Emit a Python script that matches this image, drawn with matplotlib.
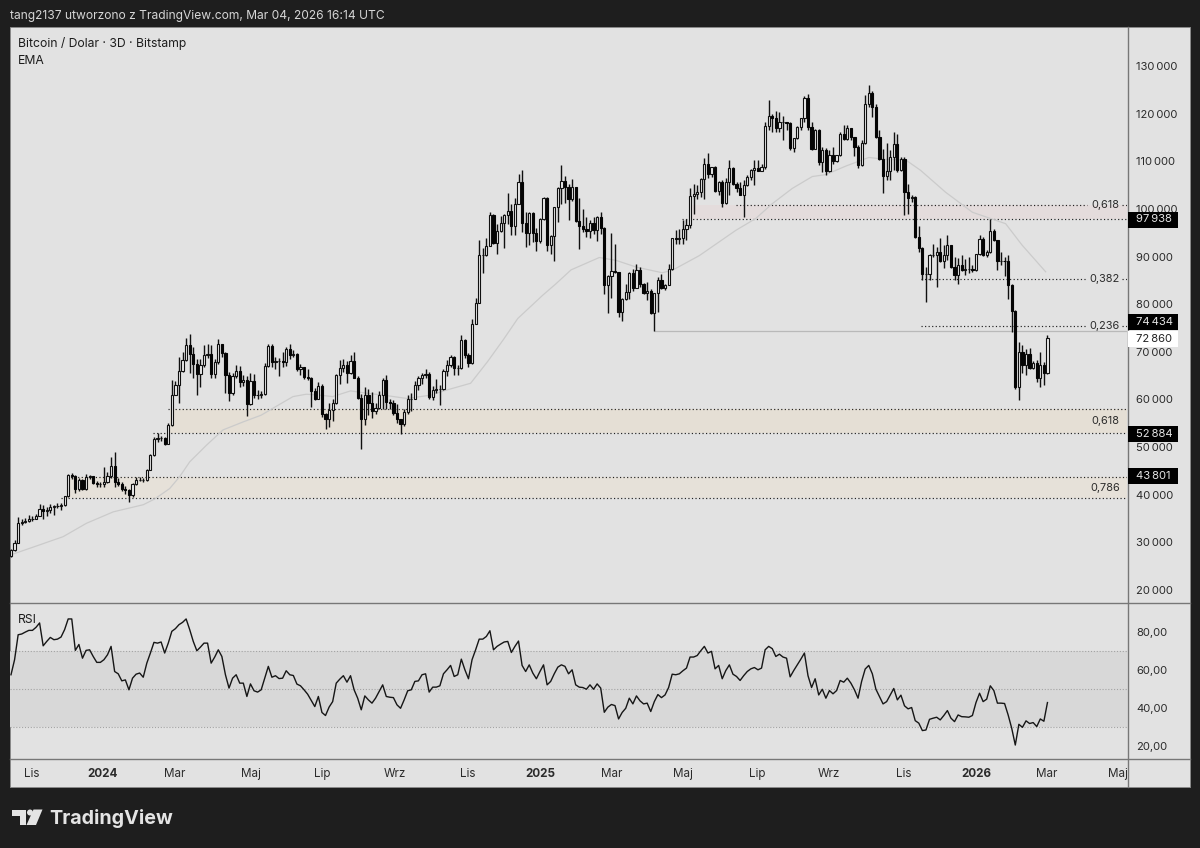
import numpy as np
import matplotlib
matplotlib.use("Agg")
import matplotlib.pyplot as plt
from matplotlib.patches import Polygon, Circle, Rectangle

# === DATA (thousands of USD, 3D candles) ===
first_open = 27.2
closes = [
    28.4, 29.9, 34.0, 34.2, 34.4, 34.8, 35.0, 35.5, 37.0, 36.6,
    36.8, 37.5, 37.7, 37.7, 37.8, 39.7, 44.1, 43.9, 41.3, 43.0,
    41.3, 43.8, 43.9, 42.5, 42.2, 42.3, 42.6, 43.9, 46.1, 42.7,
    42.3, 41.2, 41.0, 39.9, 42.2, 43.0, 43.1, 43.1, 45.2, 48.3,
    51.8, 52.0, 52.0, 50.6, 54.6, 61.0, 63.0, 66.0, 68.2, 71.4,
    69.5, 67.5, 65.4, 67.2, 69.3, 69.5, 65.3, 67.8, 71.6, 69.7,
    65.1, 61.3, 65.0, 66.0, 63.7, 64.0, 59.0, 63.9, 60.9, 60.9,
    61.2, 67.0, 71.2, 67.9, 68.0, 68.0, 67.8, 70.5, 69.3, 69.6,
    66.3, 66.9, 64.7, 64.6, 61.8, 60.2, 62.8, 56.9, 55.8, 57.8,
    59.2, 65.1, 66.5, 67.2, 65.6, 68.1, 64.6, 60.4, 56.0, 60.9,
    59.2, 57.6, 58.3, 61.0, 64.0, 59.5, 59.3, 57.2, 55.9, 54.8,
    57.3, 60.0, 60.2, 63.1, 64.4, 65.1, 65.4, 60.6, 62.0, 62.1,
    62.3, 66.0, 67.2, 68.9, 66.5, 66.6, 72.5, 69.3, 67.7, 75.8,
    80.3, 90.3, 90.4, 92.2, 98.8, 92.9, 95.4, 97.1, 98.7, 99.6,
    96.4, 101.1, 105.7, 97.1, 95.0, 99.2, 95.0, 93.2, 97.8, 102.2,
    92.4, 94.3, 100.3, 104.3, 105.9, 104.6, 102.0, 104.5, 97.5, 96.4,
    95.7, 95.3, 97.1, 95.5, 98.2, 96.0, 84.0, 85.9, 87.0, 86.8,
    78.4, 81.0, 82.5, 86.6, 83.5, 87.1, 84.2, 82.4, 82.8, 78.2,
    82.3, 85.0, 83.3, 84.0, 87.3, 93.8, 93.6, 93.8, 95.7, 96.6,
    102.7, 103.2, 103.6, 106.2, 109.5, 107.4, 108.7, 103.7, 105.7, 101.3,
    105.7, 108.5, 105.3, 104.3, 103.0, 105.0, 106.7, 108.1, 108.5, 108.0,
    108.7, 117.4, 119.5, 119.0, 116.9, 118.3, 118.3, 118.0, 112.7, 114.8,
    117.2, 119.0, 123.2, 117.2, 112.5, 116.6, 109.9, 112.3, 108.0, 111.3,
    110.0, 111.3, 115.8, 114.6, 116.9, 115.0, 113.0, 109.2, 113.9, 122.0,
    124.3, 121.5, 115.0, 110.4, 106.9, 108.0, 110.8, 113.7, 108.1, 110.4,
    103.6, 102.2, 102.5, 94.1, 91.9, 86.3, 86.3, 90.3, 90.4, 91.0,
    89.1, 90.3, 92.4, 87.8, 86.1, 88.2, 87.1, 87.3, 87.3, 87.1,
    90.5, 93.6, 90.3, 91.0, 95.4, 93.4, 89.1, 89.1, 89.0, 84.0,
    78.6, 62.7, 70.0, 67.2, 69.6, 66.5, 67.7, 64.6, 67.2, 65.5,
    72.8,
]
highs = [
    28.6, 30.5, 35.4, 35.0, 35.2, 35.8, 35.6, 36.0, 38.0, 37.8,
    37.4, 38.0, 37.9, 38.3, 38.2, 39.8, 44.4, 44.6, 44.2, 43.6,
    43.4, 44.3, 44.1, 43.9, 42.9, 42.7, 45.9, 44.8, 48.0, 49.0,
    43.5, 42.6, 41.8, 41.2, 42.5, 43.8, 43.8, 43.6, 45.5, 48.5,
    52.2, 52.9, 52.4, 52.2, 55.0, 64.0, 63.9, 69.0, 69.9, 72.8,
    73.7, 71.0, 68.5, 68.5, 71.4, 71.6, 71.4, 68.5, 72.6, 71.4,
    70.0, 65.8, 65.5, 67.2, 67.0, 65.2, 65.0, 65.5, 65.4, 62.0,
    61.8, 67.6, 71.7, 71.7, 68.9, 68.6, 70.0, 71.0, 71.7, 70.4,
    69.7, 67.4, 66.8, 66.3, 64.8, 62.4, 63.7, 63.3, 57.2, 59.2,
    60.0, 65.4, 68.2, 68.4, 68.0, 69.3, 69.9, 65.0, 61.2, 62.7,
    62.1, 61.5, 59.3, 61.8, 64.4, 65.2, 60.0, 59.9, 59.0, 56.0,
    58.0, 61.0, 61.4, 63.8, 64.9, 65.6, 66.4, 65.8, 62.9, 64.3,
    63.0, 66.3, 68.2, 69.3, 69.2, 67.3, 73.5, 72.7, 69.7, 76.8,
    81.2, 93.4, 91.7, 93.8, 99.4, 99.0, 96.9, 98.5, 99.0, 103.4,
    101.1, 102.2, 107.4, 108.1, 99.4, 99.4, 99.4, 95.9, 98.0, 102.4,
    102.5, 94.5, 100.4, 104.5, 109.2, 107.0, 105.3, 106.2, 104.6, 102.3,
    100.0, 98.3, 97.6, 98.3, 98.5, 99.4, 96.2, 86.1, 95.0, 92.7,
    86.8, 81.2, 84.2, 86.8, 87.3, 88.5, 87.8, 84.4, 84.7, 83.1,
    82.4, 85.7, 86.4, 84.3, 88.4, 93.9, 95.5, 95.7, 97.6, 97.8,
    104.3, 105.3, 105.0, 106.4, 110.6, 111.8, 108.8, 109.0, 105.9, 106.0,
    106.5, 110.2, 108.7, 105.7, 105.7, 106.0, 107.1, 108.3, 110.2, 110.2,
    109.5, 118.3, 122.9, 120.0, 120.6, 120.4, 119.5, 118.3, 118.3, 114.8,
    117.4, 119.1, 123.6, 124.2, 118.3, 116.7, 116.7, 113.0, 112.7, 112.3,
    113.1, 111.3, 116.2, 117.6, 117.7, 117.0, 115.1, 113.4, 114.5, 123.9,
    126.0, 124.8, 122.1, 116.5, 112.5, 113.9, 112.3, 116.2, 115.8, 110.9,
    110.8, 105.3, 102.9, 102.7, 96.5, 92.0, 87.8, 90.5, 92.7, 92.1,
    93.9, 92.4, 94.5, 92.5, 90.0, 89.6, 90.3, 89.4, 90.0, 88.2,
    90.6, 94.6, 94.0, 91.3, 97.8, 95.7, 93.5, 91.0, 89.9, 90.3,
    84.2, 78.7, 72.1, 71.4, 70.5, 70.7, 68.0, 68.3, 70.0, 67.9,
    73.5,
]
lows = [
    27.0, 28.2, 29.8, 33.7, 34.0, 34.3, 34.5, 34.8, 35.5, 35.0,
    35.6, 36.2, 35.8, 37.2, 36.8, 37.6, 39.5, 43.4, 40.3, 40.8,
    40.9, 41.0, 43.2, 42.3, 41.6, 41.7, 41.6, 42.4, 43.6, 41.7,
    41.8, 40.8, 40.2, 38.5, 39.6, 42.0, 42.8, 42.6, 42.8, 45.1,
    48.1, 51.1, 51.3, 50.5, 50.6, 54.4, 60.9, 59.3, 65.8, 68.1,
    65.5, 64.4, 60.9, 62.6, 66.8, 68.8, 64.4, 64.4, 67.5, 68.9,
    61.3, 59.7, 60.9, 64.6, 62.6, 62.8, 56.5, 58.8, 60.4, 60.0,
    60.3, 61.0, 66.9, 66.8, 66.4, 65.0, 66.8, 67.0, 68.5, 69.0,
    66.0, 65.2, 64.2, 64.0, 58.5, 59.9, 60.0, 56.4, 53.7, 54.3,
    55.5, 59.0, 63.2, 65.8, 63.4, 65.4, 64.4, 60.2, 49.6, 54.6,
    56.7, 56.2, 57.0, 58.0, 58.1, 58.1, 57.9, 56.7, 55.0, 52.7,
    54.4, 57.0, 57.6, 60.0, 62.0, 63.3, 64.4, 60.2, 59.8, 61.4,
    58.8, 62.0, 65.0, 66.8, 65.2, 65.1, 66.4, 68.8, 66.8, 67.5,
    75.8, 80.2, 86.6, 90.2, 92.4, 92.7, 90.6, 95.2, 91.9, 96.8,
    94.5, 94.5, 101.1, 95.2, 92.0, 92.4, 93.1, 91.2, 92.9, 97.6,
    91.2, 90.5, 89.1, 97.3, 101.1, 101.2, 97.6, 101.7, 97.3, 91.5,
    95.2, 94.0, 93.8, 94.8, 93.3, 94.7, 82.1, 78.2, 81.4, 86.6,
    77.3, 76.5, 80.8, 81.0, 82.8, 83.5, 83.6, 82.2, 80.8, 78.0,
    74.4, 78.4, 83.2, 82.9, 84.0, 87.1, 92.7, 92.7, 92.6, 93.4,
    95.9, 99.0, 102.1, 102.5, 102.0, 106.4, 106.7, 103.6, 102.9, 100.3,
    101.1, 102.9, 105.0, 103.6, 102.9, 98.2, 104.8, 106.1, 105.0, 107.9,
    108.0, 108.3, 116.5, 116.2, 116.2, 116.2, 114.4, 116.5, 112.3, 112.0,
    114.6, 116.5, 118.3, 116.5, 112.3, 112.5, 109.2, 107.8, 107.1, 107.8,
    109.5, 109.9, 111.1, 114.4, 114.5, 114.5, 111.1, 108.5, 109.0, 113.7,
    121.4, 119.4, 114.8, 110.2, 103.4, 106.0, 106.0, 108.1, 107.8, 107.9,
    98.7, 99.0, 101.5, 93.9, 91.0, 85.0, 80.5, 85.0, 89.9, 83.6,
    88.9, 87.5, 89.2, 87.7, 85.0, 84.3, 86.9, 86.1, 86.6, 86.8,
    87.0, 90.4, 90.1, 89.9, 90.8, 93.2, 87.1, 88.2, 85.9, 81.0,
    74.2, 62.3, 59.9, 65.6, 65.1, 66.3, 66.4, 63.7, 62.7, 63.0,
    65.3,
]
rsi_values = [
    57.4, 65.3, 78.4, 78.8, 79.8, 80.7, 80.7, 82.3, 84.6, 72.6,
    74.9, 77.0, 75.8, 76.1, 77.2, 81.1, 86.7, 86.7, 70.2, 73.3,
    66.1, 70.2, 70.5, 67.0, 63.9, 63.9, 65.3, 67.9, 72.3, 59.1,
    57.9, 54.2, 54.7, 49.5, 55.6, 57.7, 58.3, 56.1, 63.5, 68.8,
    74.4, 74.0, 74.6, 68.8, 74.0, 80.2, 81.6, 83.7, 84.9, 86.7,
    81.1, 74.9, 70.0, 71.9, 74.0, 74.0, 63.5, 66.7, 70.5, 67.0,
    57.4, 50.4, 55.6, 57.4, 53.0, 53.0, 46.0, 52.6, 49.0, 48.3,
    49.5, 55.6, 61.8, 56.1, 56.9, 55.4, 55.6, 59.5, 57.4, 57.0,
    52.5, 51.6, 49.5, 47.2, 43.9, 40.7, 46.0, 37.6, 36.0, 40.4,
    43.3, 53.0, 55.1, 56.9, 53.5, 56.9, 49.5, 45.1, 39.0, 46.3,
    44.2, 42.5, 45.1, 48.6, 52.1, 46.0, 45.6, 45.4, 41.6, 39.8,
    44.2, 49.0, 49.5, 53.9, 54.2, 57.4, 57.9, 48.3, 50.9, 50.9,
    51.6, 57.9, 60.0, 62.3, 56.5, 57.4, 65.6, 60.0, 55.3, 65.3,
    70.5, 76.1, 76.1, 77.5, 80.5, 70.5, 72.3, 73.5, 74.6, 74.9,
    69.1, 72.3, 75.1, 62.3, 59.1, 62.6, 58.3, 55.3, 59.1, 62.6,
    52.1, 53.9, 57.9, 61.4, 62.6, 61.8, 57.9, 60.0, 52.1, 50.9,
    50.7, 49.8, 52.1, 49.8, 52.6, 50.4, 37.7, 40.4, 41.8, 41.2,
    34.2, 37.6, 39.8, 45.1, 42.1, 46.3, 43.7, 42.1, 42.5, 38.1,
    43.3, 47.0, 45.4, 46.8, 50.7, 57.7, 57.4, 57.9, 59.5, 60.9,
    66.7, 66.7, 67.5, 70.0, 72.3, 68.8, 69.7, 60.5, 62.3, 55.3,
    59.6, 62.6, 57.7, 56.5, 54.4, 56.9, 59.1, 60.5, 61.2, 60.0,
    60.9, 70.5, 72.3, 71.1, 67.0, 68.2, 66.7, 66.1, 56.3, 59.6,
    62.6, 65.6, 68.8, 56.9, 50.7, 55.3, 46.8, 49.8, 45.1, 49.1,
    47.4, 49.1, 54.4, 53.5, 55.6, 53.0, 49.5, 45.1, 53.9, 60.4,
    62.3, 57.9, 49.8, 46.0, 42.1, 43.3, 46.8, 50.2, 44.2, 46.7,
    41.1, 39.5, 40.2, 33.3, 32.0, 28.1, 28.4, 34.0, 34.6, 35.1,
    33.7, 36.0, 38.6, 34.6, 32.8, 36.3, 35.4, 35.3, 35.1, 36.0,
    42.8, 47.7, 43.3, 44.6, 51.6, 49.1, 42.5, 42.5, 42.3, 36.3,
    29.3, 20.5, 31.4, 29.8, 33.2, 31.8, 32.3, 30.2, 34.2, 33.0,
    42.8,
]
# EMA read at a sample of candles
ema_idx = [0, 6.2, 14.6, 21.1, 28.6, 37, 40.2, 44.4, 47.2, 50, 54.7, 59.3, 65, 70, 74.3,
           78.9, 82.6, 86.4, 90, 95, 99.6, 104.3, 110.8, 117.4, 122, 128.6, 133.3, 137.8,
           141.8, 148.8, 152.5, 156.7, 164.6, 169.3, 174.9, 182.2, 185, 192.6, 202.8,
           208.4, 213, 218.6, 224.2, 228, 233.6, 240, 244.7, 250.3, 254.5, 261.5, 269,
           278.3, 282.9, 289.5]
ema_values = [27.4, 29.0, 31.2, 34.0, 36.4, 37.9, 39.1, 41.3, 43.8, 46.9, 50.4, 53.6, 55.3, 56.7, 58.6,
              60.6, 61.1, 60.9, 60.6, 61.8, 61.3, 60.9, 60.2, 60.9, 62.0, 63.4, 67.9, 72.6,
              77.0, 81.9, 84.3, 87.2, 89.8, 89.2, 87.8, 86.6, 87.1, 90.2, 95.5,
              98.0, 101.1, 104.3, 106.8, 107.2, 109.0, 110.8, 110.4, 110.3, 108.1, 103.5, 99.3,
              96.9, 92.4, 86.8]

price_ticks = [20, 30, 40, 50, 60, 70, 80, 90, 100, 110, 120, 130]
rsi_ticks = [20, 40, 60, 80]
rsi_levels = [30, 50, 70]
time_pos = [5.9, 25.7, 45.9, 67.2, 87, 107.4, 127.9, 148, 168.2, 188, 208.7, 228.9, 249.9, 270, 289.8, 309.7]
time_labels = ["Lis", "2024", "Mar", "Maj", "Lip", "Wrz", "Lis", "2025", "Mar", "Maj", "Lip", "Wrz", "Lis", "2026", "Mar", "Maj"]

# zones: bottom, top, start of fill
zone_bottom = [97.938, 52.884, 39.4]
zone_top = [100.9, 58.0, 43.801]
zone_start = [189.8, 44.5, 15.6]
zone_top_line_start = [202.8, 43.9, 15.7]
zone_bottom_line_start = [187.8, 39.7, 14.0]
zone_colors = ["#e4dcdc", "#e5dfd5", "#e6e1d9"]
swing_level = 74.434
swing_start = 180
fib_382 = 85.2
fib_236 = 75.5
fib_start = 254.6

BG = "#e2e2e2"
DARK = "#1e1e1e"
TEXT = "#2b2b2b"
AXIS_LINE = "#777777"
plt.rcParams["font.family"] = ["Inter", "DejaVu Sans"]

W, H = 1200, 848
STEP = 3.574


def px_axes(x0, y0, x1, y1, **kw):
    return fig.add_axes([x0 / W, 1 - y1 / H, (x1 - x0) / W, (y1 - y0) / H], **kw)


def fmt_price(v):
    return f"{v // 1000}\u2009{v % 1000:03d}"


fig = plt.figure(figsize=(W / 100, H / 100), dpi=100, facecolor=DARK)

# panel background + overlay in pixel coordinates for the layout stuff
back = px_axes(0, 0, W, H, zorder=0)
back.set_xlim(0, W)
back.set_ylim(H, 0)
back.axis("off")
back.add_patch(Rectangle((10, 27), 1180, 760, facecolor=BG, edgecolor="#8a8a8a", linewidth=0.7))

ax = px_axes(10, 27, 1127, 602, zorder=2)
ax_rsi = px_axes(10, 603, 1127, 758, zorder=2)
ax_time = px_axes(10, 759, 1127, 787, zorder=2)
xlim = ((10 - 11) / STEP, (1127 - 11) / STEP)
for a in (ax, ax_rsi, ax_time):
    a.set_facecolor("none")
    a.set_xlim(*xlim)
    for s in a.spines.values():
        s.set_visible(False)
    a.set_xticks([])

# === PRICE PANE ===
assert len(closes) == len(highs) == len(lows) == len(rsi_values)
x = np.arange(len(closes))
c = np.array(closes)
h = np.array(highs)
l = np.array(lows)
o = np.r_[first_open, c[:-1]]
up = c >= o
ax.set_ylim(17.48, 138.19)

right = xlim[1]
lab_gap = (1087 - 11) / STEP
lab_gap2 = (1122 - 11) / STEP
dots = dict(color="#222222", linewidth=0.85, linestyles=(0, (1, 2)), zorder=2)

for b, t, s, col in zip(zone_bottom, zone_top, zone_start, zone_colors):
    ax.fill_between([s, right], b, t, color=col, linewidth=0, zorder=1)

for b, t, st, sb in zip(zone_bottom, zone_top, zone_top_line_start, zone_bottom_line_start):
    if b > 90:
        ax.hlines(t, st, lab_gap, **dots)
        ax.hlines(t, lab_gap2, right, **dots)
    else:
        ax.hlines(t, st, right, **dots)
    ax.hlines(b, sb, right, **dots)
for lev in (fib_382, fib_236):
    ax.hlines(lev, fib_start, lab_gap, **dots)
    ax.hlines(lev, lab_gap2, right, **dots)
ax.hlines(swing_level, swing_start, right, color="#b9b9b9", linewidth=0.9, zorder=2)

ax.plot(ema_idx, ema_values, color="#cbcbcb", linewidth=0.9, zorder=3)

ax.vlines(x, l, h, color="#101010", linewidth=1.0, zorder=4)
ax.bar(x[up], (c - o)[up], bottom=o[up], width=0.62, facecolor="#eeeeee", edgecolor="#101010", linewidth=0.8, zorder=5)
ax.bar(x[~up], (c - o)[~up], bottom=o[~up], width=0.62, facecolor="#050505", edgecolor="#050505", linewidth=0.8, zorder=5)

ax.yaxis.tick_right()
ax.set_yticks(price_ticks)
ax.set_yticklabels([fmt_price(v * 1000) for v in price_ticks], fontsize=8.1, color=TEXT)
ax.tick_params(axis="y", length=0, pad=6.5)

for txt, yv in [("0,618", zone_top[0]), ("0,382", fib_382), ("0,236", fib_236), ("0,618", 55.4), ("0,786", 41.5)]:
    ax.text((1105 - 11) / STEP, yv, txt, fontsize=7.9, color=TEXT, ha="center", va="center", zorder=6)

ax.text(8 / 1117, 1 - 16.5 / 575, "Bitcoin / Dolar \u00b7 3D \u00b7 Bitstamp", transform=ax.transAxes,
        fontsize=8.75, color="#1c1c1c", va="center")
ax.text(8 / 1117, 1 - 34 / 575, "EMA", transform=ax.transAxes, fontsize=8.75, color="#1c1c1c", va="center")

# === RSI PANE ===
ax_rsi.set_ylim(13.7, 95.07)
ax_rsi.axhspan(rsi_levels[0], rsi_levels[2], color="#d8d8d8", linewidth=0, zorder=1)
for lev in rsi_levels:
    ax_rsi.axhline(lev, color="#a3a3a3", linewidth=0.8, linestyle=(0, (1, 1.6)), zorder=2)
ax_rsi.plot(x, rsi_values, color="#161616", linewidth=1.0, zorder=3)
ax_rsi.yaxis.tick_right()
ax_rsi.set_yticks(rsi_ticks)
ax_rsi.set_yticklabels([f"{v},00" for v in rsi_ticks], fontsize=8.1, color=TEXT)
ax_rsi.tick_params(axis="y", length=0, pad=6.5)
ax_rsi.text(8 / 1117, 1 - 17 / 155, "RSI", transform=ax_rsi.transAxes, fontsize=8.75, color="#1c1c1c", va="center")

# === TIME AXIS ===
ax_time.set_ylim(0, 1)
ax_time.set_yticks([])
for p, lab in zip(time_pos, time_labels):
    bold = lab.isdigit()
    ax_time.text(p, 0.48, lab, fontsize=8.4, color=TEXT, ha="center", va="center",
                 fontweight="bold" if bold else "normal", clip_on=True)

# === PANE LINES, PRICE TAGS, HEADER, LOGO ===
over = px_axes(0, 0, W, H, zorder=5)
over.set_facecolor("none")
over.set_xlim(0, W)
over.set_ylim(H, 0)
over.axis("off")
over.plot([10, 1190], [602.5, 602.5], color=AXIS_LINE, linewidth=1.0)
over.plot([10, 1190], [758.8, 758.8], color=AXIS_LINE, linewidth=1.0)
over.plot([1127.5, 1127.5], [27, 787], color=AXIS_LINE, linewidth=1.0)

tags = [(97938, 219.5, "#000000", "#e6e6e6"), (74434, 322, "#000000", "#e6e6e6"), (72860, 339, "#ffffff", "#222222"),
        (52884, 434, "#000000", "#e6e6e6"), (43801, 476, "#000000", "#e6e6e6")]
for val, yc, fc, tc in tags:
    over.add_patch(Rectangle((1128, yc - 8), 50, 16, facecolor=fc, edgecolor="none", zorder=3))
    over.text(1136, yc, fmt_price(val), color=tc, fontsize=8.1, va="center", ha="left", zorder=4)

over.text(10, 16, "tang2137 utworzono z TradingView.com, Mar 04, 2026 16:14 UTC", color="#d6d6d6",
          fontsize=8.67, va="center", ha="left")

logo = "#e4e4e4"
over.add_patch(Polygon([(12, 809.5), (26, 809.5), (26, 825), (19.5, 825), (19.5, 815.5), (12, 815.5)], facecolor=logo, edgecolor="none"))
over.add_patch(Circle((30, 812.5), 3, facecolor=logo, edgecolor="none"))
over.add_patch(Polygon([(33.5, 809.5), (42.5, 809.5), (36, 825), (26.5, 825)], facecolor=logo, edgecolor="none"))
over.text(49.5, 818, "TradingView", color=logo, fontsize=14.2, fontweight="bold", va="center", ha="left")

fig.savefig("out.png", dpi=100, facecolor=DARK)
